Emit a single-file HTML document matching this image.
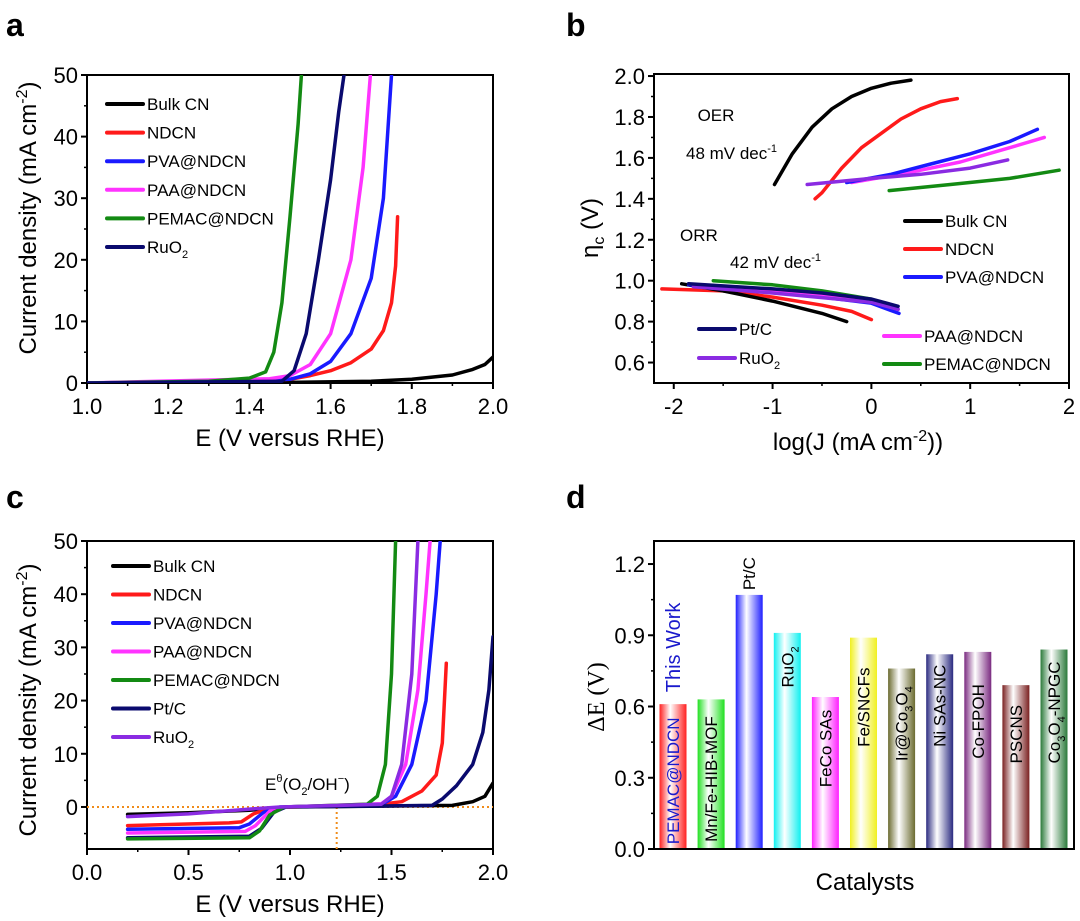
<!DOCTYPE html>
<html><head><meta charset="utf-8"><style>
body{margin:0;background:#fff;}
svg{display:block;font-family:"Liberation Sans",sans-serif;}
</style></head><body>
<svg id="fig" width="1080" height="921" viewBox="0 0 1080 921">
<defs id="defs"></defs>
<text x="6" y="36" font-size="32" font-weight="bold">a</text>
<text x="566" y="36" font-size="32" font-weight="bold">b</text>
<text x="6" y="508" font-size="32" font-weight="bold">c</text>
<text x="566" y="508" font-size="32" font-weight="bold">d</text>
<g id="ga"></g>
<g id="gb"></g>
<g id="gc"></g>
<g id="gd"></g>
</svg>
<script>
// ---------- Panel a data ----------
const aNames=["Bulk CN","NDCN","PVA@NDCN","PAA@NDCN","PEMAC@NDCN","RuO2"];
const aColors=["#000000","#ff1a1a","#1a1aff","#ff33ff","#138a13","#0a0a6e"];
const aBulkE=[1.0,1.5,1.7,1.8,1.9,1.95,1.98,2.0];
const aBulkJ=[0,0.1,0.3,0.6,1.3,2.2,3.0,4.2];
const aNdcnE=[1.0,1.4,1.5,1.55,1.6,1.65,1.7,1.73,1.75,1.76,1.765];
const aNdcnJ=[0,0.3,0.6,1.2,2,3.3,5.5,8.5,13,19,27];
const aPvaE=[1.0,1.4,1.5,1.55,1.6,1.65,1.7,1.73,1.75];
const aPvaJ=[0,0.4,0.6,1.5,3.5,8,17,30,50];
const aPaaE=[1.0,1.45,1.5,1.55,1.6,1.65,1.68,1.698];
const aPaaJ=[0,0.7,1.2,3,8,20,35,50];
const aPemacE=[1.0,1.3,1.4,1.44,1.46,1.48,1.5,1.52,1.528];
const aPemacJ=[0,0.3,0.8,1.8,5,13,27,42,50];
const aRuE=[1.0,1.48,1.51,1.54,1.57,1.6,1.62,1.633];
const aRuJ=[0,0.3,2,8,20,33,44,50];
// ---------- Panel b data ----------
const bColors={"Bulk CN":"#000000","NDCN":"#ff1a1a","PVA@NDCN":"#1a1aff","PAA@NDCN":"#ff33ff","PEMAC@NDCN":"#138a13","Pt/C":"#0a0a6e","RuO2":"#8a2be2"};
const bOerBulkX=[-0.98,-0.8,-0.6,-0.4,-0.2,0,0.2,0.4];
const bOerBulkY=[1.47,1.62,1.75,1.84,1.9,1.94,1.965,1.98];
const bOerNdcnX=[-0.57,-0.5,-0.3,-0.1,0.1,0.3,0.5,0.7,0.87];
const bOerNdcnY=[1.4,1.43,1.55,1.65,1.72,1.79,1.84,1.875,1.89];
const bOerPvaX=[-0.25,0.2,0.6,1.0,1.4,1.68];
const bOerPvaY=[1.48,1.52,1.57,1.62,1.68,1.74];
const bOerPaaX=[-0.2,0.4,0.9,1.4,1.75];
const bOerPaaY=[1.48,1.53,1.58,1.65,1.70];
const bOerRuX=[-0.65,0,0.5,1.0,1.38];
const bOerRuY=[1.47,1.5,1.52,1.55,1.59];
const bOerPemacX=[0.18,0.8,1.4,1.9];
const bOerPemacY=[1.44,1.47,1.5,1.54];
const bOrrBulkX=[-1.92,-1.5,-1,-0.5,-0.25];
const bOrrBulkY=[0.985,0.95,0.9,0.84,0.8];
const bOrrNdcnX=[-2.12,-1.5,-1,-0.5,-0.2,0];
const bOrrNdcnY=[0.96,0.95,0.92,0.88,0.85,0.81];
const bOrrPvaX=[-1.85,-1,-0.5,0,0.28];
const bOrrPvaY=[0.98,0.95,0.92,0.89,0.84];
const bOrrPaaX=[-1.8,-1,0,0.27];
const bOrrPaaY=[0.98,0.95,0.9,0.86];
const bOrrRuX=[-1.8,-1,0,0.27];
const bOrrRuY=[0.97,0.94,0.895,0.86];
const bOrrPemacX=[-1.6,-1,-0.5,0];
const bOrrPemacY=[1.0,0.98,0.95,0.91];
const bOrrPtX=[-1.85,-1,-0.5,0,0.27];
const bOrrPtY=[0.985,0.96,0.94,0.91,0.875];
// ---------- Panel c data ----------
const cNames=["Bulk CN","NDCN","PVA@NDCN","PAA@NDCN","PEMAC@NDCN","Pt/C","RuO2"];
const cColors=["#000000","#ff1a1a","#1a1aff","#ff33ff","#138a13","#0a0a6e","#8a2be2"];
const cBulkE=[0.2,0.5,0.8,0.95,1.0,1.8,1.9,1.96,2.0];
const cBulkJ=[-1.4,-1.1,-0.6,-0.1,0,0.3,1,2,4.5];
const cNdcnE=[0.2,0.7,0.76,0.82,0.9,1.0,1.4,1.55,1.65,1.72,1.75,1.77];
const cNdcnJ=[-3.5,-3,-2.8,-1.3,-0.2,0,0.3,1,3,6,12,27];
const cPvaE=[0.2,0.75,0.8,0.87,0.95,1.45,1.52,1.6,1.67,1.72,1.74];
const cPvaJ=[-4.2,-3.9,-3.2,-1,0,0.4,2,8,20,40,50];
const cPaaE=[0.2,0.78,0.83,0.9,0.97,1.45,1.5,1.57,1.63,1.67,1.69];
const cPaaJ=[-4.9,-4.6,-3.5,-0.8,0,0.6,2,8,22,40,50];
const cPemacE=[0.2,0.8,0.85,0.9,0.97,1.38,1.43,1.47,1.5,1.52];
const cPemacJ=[-6,-5.8,-4.5,-1.5,0,0.5,2,8,25,50];
const cPtE=[0.2,0.8,0.86,0.92,0.98,1.7,1.75,1.82,1.9,1.95,1.98,2.0];
const cPtJ=[-5.8,-5.5,-4,-1,0,0.3,1.5,4,8,14,22,32];
const cRuE=[0.2,0.5,0.8,0.95,1.45,1.5,1.55,1.6,1.63];
const cRuJ=[-1.8,-1.3,-0.4,0,0.5,2,8,25,50];
// ---------- Panel d data ----------
const dCats=["PEMAC@NDCN","Mn/Fe-HIB-MOF","Pt/C","RuO2","FeCo SAs","Fe/SNCFs","Ir@Co3O4","Ni SAs-NC","Co-FPOH","PSCNS","Co3O4-NPGC"];
const dValues=[0.61,0.63,1.07,0.91,0.64,0.89,0.76,0.82,0.83,0.69,0.84];
const dColors=["#ff2020","#20e020","#2020ff","#10f0f0","#ff20ff","#f0f020","#6b6b30","#2a2a80","#7a2a80","#7a2020","#2a7a3a"];
const dLabelStart=[0.02,0.03,1.09,0.68,0.26,0.43,0.37,0.43,0.38,0.36,0.36];
const dTicks=[0,0.3,0.6,0.9,1.2];

const NS="http://www.w3.org/2000/svg";
function mk(tag,attrs,parent){const e=document.createElementNS(NS,tag);for(const k in attrs)e.setAttribute(k,attrs[k]);if(parent)parent.appendChild(e);return e;}
function scale(d0,d1,r0,r1){return v=>r0+(v-d0)/(d1-d0)*(r1-r0);}
function fmt(v,dec){return v.toFixed(dec);}

function axes(g,o){
  const sx=scale(o.x0,o.x1,o.L,o.R), sy=scale(o.y0,o.y1,o.B,o.T);
  const fr=mk('rect',{x:o.L,y:o.T,width:o.R-o.L,height:o.B-o.T,fill:'none',stroke:'#000','stroke-width':2},g);
  
  for(const v of o.xt){const x=sx(v);
    mk('line',{x1:x,x2:x,y1:o.B,y2:o.B+6,stroke:'#000','stroke-width':2},g);
    const t=mk('text',{x:x,y:o.B+31,'font-size':22,'text-anchor':'middle'},g);t.textContent=fmt(v,o.xd);
    }
  for(const v of o.xm){const x=sx(v);mk('line',{x1:x,x2:x,y1:o.B,y2:o.B+3,stroke:'#000','stroke-width':1.5},g);}
  for(const v of o.yt){const y=sy(v);
    mk('line',{x1:o.L-6,x2:o.L,y1:y,y2:y,stroke:'#000','stroke-width':2},g);
    const t=mk('text',{x:o.L-9,y:y+8,'font-size':22,'text-anchor':'end'},g);t.textContent=fmt(v,o.yd);
    }
  for(const v of o.ym){const y=sy(v);mk('line',{x1:o.L-3,x2:o.L,y1:y,y2:y,stroke:'#000','stroke-width':1.5},g);}
  return {sx,sy};
}
function line(g,sx,sy,xs,ys,color,name,clip){
  const p=xs.map((x,i)=>sx(x).toFixed(1)+','+sy(ys[i]).toFixed(1)).join(' ');
  const e=mk('polyline',{points:p,fill:'none',stroke:color,'stroke-width':3.5,'stroke-linejoin':'round','stroke-linecap':'round'},g);
  if(clip)e.setAttribute('clip-path',clip);
  
}
function legend(g,x,y,color,label,w){
  mk('line',{x1:x,x2:x+w,y1:y,y2:y,stroke:color,'stroke-width':4,'stroke-linecap':'round'},g);
  const t=mk('text',{x:x+w+4,y:y+6,'font-size':17},g);
  if(label.indexOf('O2')>0){t.innerHTML=label.replace('O2','O<tspan font-size="11" dy="5">2</tspan>');}else t.textContent=label;
  
}
function ytitle(g,x,y,html,serif){
  const t=mk('text',{x:0,y:0,'font-size':24,'text-anchor':'middle',transform:`translate(${x},${y}) rotate(-90)`},g);
  if(serif)t.setAttribute('font-family','"Liberation Serif",serif');
  t.innerHTML=html;
}
function xtitle(g,x,y,html){
  const t=mk('text',{x:x,y:y,'font-size':24,'text-anchor':'middle'},g);
  t.innerHTML=html;
}
const defs=document.getElementById('defs');
function clipRect(id,L,T,R,B){const c=mk('clipPath',{id:id},defs);mk('rect',{x:L,y:T,width:R-L,height:B-T},c);return `url(#${id})`;}

// ===== Panel a =====
(function(){
  const g=document.getElementById('ga');
  const o={L:87,R:493,T:75,B:383,x0:1,x1:2,y0:0,y1:50,xt:[1,1.2,1.4,1.6,1.8,2.0],xm:[1.1,1.3,1.5,1.7,1.9],xd:1,yt:[0,10,20,30,40,50],ym:[5,15,25,35,45],yd:0};
  const {sx,sy}=axes(g,o);const clip=clipRect('ca',o.L,o.T,o.R,o.B);
  const E=[aBulkE,aNdcnE,aPvaE,aPaaE,aPemacE,aRuE],J=[aBulkJ,aNdcnJ,aPvaJ,aPaaJ,aPemacJ,aRuJ];
  for(let i=0;i<6;i++)line(g,sx,sy,E[i],J[i],aColors[i],'line-'+aNames[i].toLowerCase().replace(/[^a-z0-9]/g,'-'),clip);
  for(let i=0;i<6;i++)legend(g,107,104+28.6*i,aColors[i],aNames[i],36);
  ytitle(g,36,218,'Current density (mA cm<tspan font-size="16" dy="-9">-2</tspan><tspan dy="9">)</tspan>');
  xtitle(g,290,446,'E (V versus RHE)');
})();
// ===== Panel b =====
(function(){
  const g=document.getElementById('gb');
  const o={L:654,R:1069,T:74,B:383,x0:-2.2,x1:2,y0:0.5,y1:2.01,xt:[-2,-1,0,1,2],xm:[-1.5,-0.5,0.5,1.5],xd:0,yt:[0.6,0.8,1.0,1.2,1.4,1.6,1.8,2.0],ym:[0.7,0.9,1.1,1.3,1.5,1.7,1.9],yd:1};
  const {sx,sy}=axes(g,o);const clip=clipRect('cb',o.L,o.T,o.R,o.B);
  const oer=[[bOerBulkX,bOerBulkY,"Bulk CN"],[bOerNdcnX,bOerNdcnY,"NDCN"],[bOerPaaX,bOerPaaY,"PAA@NDCN"],[bOerPvaX,bOerPvaY,"PVA@NDCN"],[bOerRuX,bOerRuY,"RuO2"],[bOerPemacX,bOerPemacY,"PEMAC@NDCN"]];
  for(const s of oer)line(g,sx,sy,s[0],s[1],bColors[s[2]],'oer-'+s[2].toLowerCase().replace(/[^a-z0-9]/g,'-'),clip);
  const orr=[[bOrrNdcnX,bOrrNdcnY,"NDCN"],[bOrrBulkX,bOrrBulkY,"Bulk CN"],[bOrrPvaX,bOrrPvaY,"PVA@NDCN"],[bOrrPaaX,bOrrPaaY,"PAA@NDCN"],[bOrrRuX,bOrrRuY,"RuO2"],[bOrrPemacX,bOrrPemacY,"PEMAC@NDCN"],[bOrrPtX,bOrrPtY,"Pt/C"]];
  for(const s of orr)line(g,sx,sy,s[0],s[1],bColors[s[2]],'orr-'+s[2].toLowerCase().replace(/[^a-z0-9]/g,'-'),clip);
  legend(g,905,221,bColors["Bulk CN"],"Bulk CN",36);
  legend(g,905,249,bColors["NDCN"],"NDCN",36);
  legend(g,905,277,bColors["PVA@NDCN"],"PVA@NDCN",36);
  legend(g,884,336,bColors["PAA@NDCN"],"PAA@NDCN",36);
  legend(g,884,364,bColors["PEMAC@NDCN"],"PEMAC@NDCN",36);
  legend(g,699,329,bColors["Pt/C"],"Pt/C",36);
  legend(g,699,358,bColors["RuO2"],"RuO2",36);
  const t1=mk('text',{x:716,y:121,'font-size':17,'text-anchor':'middle'},g);t1.textContent='OER';
  const t2=mk('text',{x:686,y:159,'font-size':17},g);t2.innerHTML='48 mV dec<tspan font-size="11" dy="-7">-1</tspan>';
  const t3=mk('text',{x:680,y:241,'font-size':17},g);t3.textContent='ORR';
  const t4=mk('text',{x:730,y:268,'font-size':17},g);t4.innerHTML='42 mV dec<tspan font-size="11" dy="-7">-1</tspan>';
  ytitle(g,598,228,'η<tspan font-size="16" dy="6">c</tspan><tspan dy="-6"> (V)</tspan>');
  xtitle(g,858,450,'log(J (mA cm<tspan font-size="16" dy="-9">-2</tspan><tspan dy="9">))</tspan>');
})();
// ===== Panel c =====
(function(){
  const g=document.getElementById('gc');
  const o={L:87,R:493,T:541,B:849,x0:0,x1:2,y0:-7.9,y1:50,xt:[0,0.5,1,1.5,2],xm:[0.25,0.75,1.25,1.75],xd:1,yt:[0,10,20,30,40,50],ym:[-5,5,15,25,35,45],yd:0};
  const {sx,sy}=axes(g,o);const clip=clipRect('cc',o.L,o.T,o.R,o.B);
  mk('line',{x1:o.L,x2:o.R,y1:sy(0),y2:sy(0),stroke:'#f08c1a','stroke-width':2,'stroke-dasharray':'2,3'},g);
  mk('line',{x1:sx(1.23),x2:sx(1.23),y1:sy(0),y2:o.B,stroke:'#f08c1a','stroke-width':2,'stroke-dasharray':'2,3'},g);
  const E=[cBulkE,cNdcnE,cPvaE,cPaaE,cPtE,cPemacE,cRuE],J=[cBulkJ,cNdcnJ,cPvaJ,cPaaJ,cPtJ,cPemacJ,cRuJ];
  const idx=[0,1,2,3,5,4,6];
  for(let k=0;k<7;k++){const i=idx[k];line(g,sx,sy,E[k],J[k],cColors[i],'line-'+cNames[i].toLowerCase().replace(/[^a-z0-9]/g,'-'),clip);}
  for(let i=0;i<7;i++)legend(g,113,566+28.5*i,cColors[i],cNames[i],36);
  const t=mk('text',{x:265,y:790,'font-size':17},g);
  t.innerHTML='E<tspan font-size="11" dy="-8">θ</tspan><tspan dy="8">(O</tspan><tspan font-size="11" dy="5">2</tspan><tspan dy="-5">/OH</tspan><tspan font-size="11" dy="-8">−</tspan><tspan dy="8">)</tspan>';
  
  ytitle(g,36,700,'Current density (mA cm<tspan font-size="16" dy="-9">-2</tspan><tspan dy="9">)</tspan>');
  xtitle(g,290,912,'E (V versus RHE)');
})();
// ===== Panel d =====
(function(){
  const g=document.getElementById('gd');
  const L=654,R=1074,T=541,B=849;
  const sy=scale(0,1.297,B,T);
  const cx=i=>673+i*38.1;
  dCats.forEach((c,i)=>{
    const gr=mk('linearGradient',{id:'gd'+i,x1:0,x2:1,y1:0,y2:0},defs);
    mk('stop',{offset:'0','stop-color':dColors[i]},gr);
    mk('stop',{offset:'0.4','stop-color':'#ffffff'},gr);
    mk('stop',{offset:'1','stop-color':dColors[i]},gr);
    const b=mk('rect',{x:cx(i)-13.5,y:sy(dValues[i]),width:27,height:B-sy(dValues[i]),fill:`url(#gd${i})`},g);
    
    
  });
  const fr=mk('rect',{x:L,y:T,width:R-L,height:B-T,fill:'none',stroke:'#000','stroke-width':2},g);
  
  for(const v of dTicks){const y=sy(v);mk('line',{x1:L-6,x2:L,y1:y,y2:y,stroke:'#000','stroke-width':2},g);
    const t=mk('text',{x:L-9,y:y+8,'font-size':22,'text-anchor':'end'},g);t.textContent=v.toFixed(1);
    }
  for(const v of [0.15,0.45,0.75,1.05]){const y=sy(v);mk('line',{x1:L-3,x2:L,y1:y,y2:y,stroke:'#000','stroke-width':1.5},g);}
  dCats.forEach((c,i)=>{
    const x=cx(i)+6,y=sy(dLabelStart[i]);
    const t=mk('text',{x:0,y:0,'font-size':17,fill:i===0?'#1a1acc':'#000',transform:`translate(${x},${y}) rotate(-90)`},g);
    t.innerHTML=c.replace(/(\d)/g,'<tspan font-size="11" dy="5">$1</tspan><tspan dy="-5">\u200b</tspan>');
    
  });
  const tw=mk('text',{x:0,y:0,'font-size':20,fill:'#1a1acc',transform:`translate(${cx(0)+7},${sy(0.66)}) rotate(-90)`},g);
  tw.textContent='This Work';
  ytitle(g,604,697,'ΔE (V)',true);
  xtitle(g,865,890,'Catalysts');
})();
</script>
</body></html>
